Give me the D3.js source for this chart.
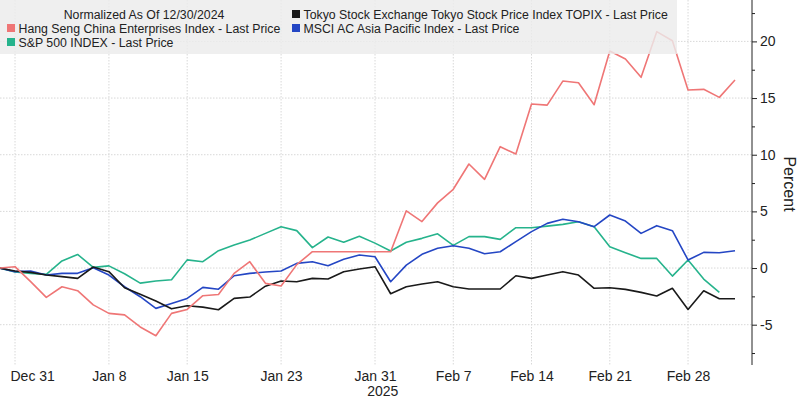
<!DOCTYPE html>
<html><head><meta charset="utf-8">
<script src="https://cdn.jsdelivr.net/npm/d3@7"></script>
<style>
body{margin:0;background:#fff}
svg{display:block}
text{font-family:"Liberation Sans",Arial,sans-serif;fill:#222}
</style>
</head><body>
<svg id="c" width="800" height="402"></svg>
<script>
// ---------- data ----------
const dates = [
  "2024-12-30","2024-12-31","2025-01-01","2025-01-02","2025-01-03",
  "2025-01-06","2025-01-07","2025-01-08","2025-01-09","2025-01-10",
  "2025-01-13","2025-01-14","2025-01-15","2025-01-16","2025-01-17",
  "2025-01-20","2025-01-21","2025-01-22","2025-01-23","2025-01-24",
  "2025-01-27","2025-01-28","2025-01-29","2025-01-30","2025-01-31",
  "2025-02-03","2025-02-04","2025-02-05","2025-02-06","2025-02-07",
  "2025-02-10","2025-02-11","2025-02-12","2025-02-13","2025-02-14",
  "2025-02-17","2025-02-18","2025-02-19","2025-02-20","2025-02-21",
  "2025-02-24","2025-02-25","2025-02-26","2025-02-27","2025-02-28",
  "2025-03-03","2025-03-04","2025-03-05"
];
const hscei = [0,0.12,-1.2,-2.59,-1.65,-2.0,-3.25,-4.0,-4.13,-5.2,
  -5.97,-4.0,-3.65,-2.44,-2.33,-0.47,0.56,-1.35,-1.59,0.3,
  1.44,1.44,1.44,1.44,1.44,1.44,5.05,4.1,5.75,6.95,
  9.18,7.83,10.71,10.06,14.47,14.38,16.5,16.35,14.41,19.15,
  18.45,16.83,20.86,20.06,15.71,15.77,15.06,16.59];
const topix = [0,-0.26,-0.38,-0.62,-0.76,-0.91,0.09,-0.32,-1.74,-2.32,
  -2.91,-3.6,-3.33,-3.45,-3.68,-2.68,-2.56,-1.6,-1.15,-1.21,
  -0.91,-0.97,-0.32,-0.09,0.12,-2.27,-1.65,-1.41,-1.21,-1.65,
  -1.85,-1.85,-1.85,-0.68,-0.91,-0.62,-0.32,-0.62,-1.79,-1.74,
  -1.88,-2.15,-2.47,-1.79,-3.65,-2.0,-2.71,-2.71];
const msciAp = [0,-0.32,-0.26,-0.62,-0.47,-0.47,0.03,-0.62,-1.65,-2.53,
  -3.56,-3.12,-2.68,-1.71,-1.87,-0.68,-0.47,-0.35,-0.26,0.41,
  0.56,0.21,0.77,1.15,1.0,-1.21,0.26,1.21,1.74,1.97,
  1.74,1.26,1.44,2.33,3.21,3.94,4.3,4.09,3.65,4.68,
  4.15,3.06,3.74,3.3,0.71,1.38,1.35,1.53];
const spx = [0,-0.35,-0.47,-0.56,0.63,1.2,0.06,0.19,-0.5,-1.33,
  -1.14,-1.04,0.72,0.56,1.53,2.03,2.47,3.06,3.65,3.3,
  1.8,2.74,2.27,2.8,2.2,1.5,2.27,2.62,3.02,2.0,
  2.77,2.77,2.53,3.56,3.56,3.7,3.85,4.09,3.65,1.88,
  1.35,0.85,0.85,-0.71,0.71,-0.97,-2.15,null];

const seriesNames = [
  "Hang Seng China Enterprises Index - Last Price",
  "Tokyo Stock Exchange Tokyo Stock Price Index TOPIX - Last Price",
  "MSCI AC Asia Pacific Index - Last Price",
  "S&P 500 INDEX - Last Price"
];
const seriesColors = ["#ef7676","#1a1a1a","#2446c4","#26b38c"];
const legendTitle = "Normalized As Of 12/30/2024";

const tickDates = ["2024-12-31","2025-01-08","2025-01-15","2025-01-23","2025-01-31",
  "2025-02-07","2025-02-14","2025-02-21","2025-02-28"];
const tickLabels = ["Dec 31","Jan 8","Jan 15","Jan 23","Jan 31","Feb 7","Feb 14","Feb 21","Feb 28"];
const yearLabel = "2025";
const yTicks = [-5,0,5,10,15,20];
const yMinorTicks = [-7.5,-2.5,2.5,7.5,12.5,17.5,22.5];
const yTitle = "Percent";

// ---------- layout ----------
const svg = d3.select("#c");
const axisX = 752, plotBottom = 365;
const x = d3.scalePoint().domain(dates).range([-0.65, 735]);
const y = d3.scaleLinear().domain([-5, 20]).range([324.7, 41.4]);

// grid
const grid = svg.append("g");
grid.selectAll("line.h").data(yTicks).join("line")
  .attr("x1", 0).attr("x2", axisX)
  .attr("y1", d => y(d)).attr("y2", d => y(d))
  .attr("stroke", "#d8d8d8").attr("stroke-dasharray", "1.5,1.5");
grid.selectAll("line.v").data(tickDates).join("line")
  .attr("x1", d => x(d)).attr("x2", d => x(d))
  .attr("y1", 0).attr("y2", plotBottom)
  .attr("stroke", "#d8d8d8").attr("stroke-dasharray", "1.5,1.5");

// lines
const seriesData = [spx, msciAp, topix, hscei];
const seriesCol = [seriesColors[3], seriesColors[2], seriesColors[1], seriesColors[0]];
const line = d3.line()
  .defined(d => d[1] !== null)
  .x(d => x(d[0])).y(d => y(d[1]));
seriesData.forEach((vals, k) => {
  svg.append("path")
    .datum(dates.map((dt, i) => [dt, vals[i]]))
    .attr("d", line)
    .attr("fill", "none")
    .attr("stroke", seriesCol[k])
    .attr("stroke-width", 1.6)
    .attr("stroke-linejoin", "round");
});

// y axis (right)
const yAxisG = svg.append("g").attr("transform", `translate(${axisX},0)`);
yAxisG.call(d3.axisRight(y).tickValues(yTicks).tickSize(5).tickPadding(3).tickFormat(d => String(d)));
yAxisG.select(".domain").remove();
yAxisG.selectAll("text").style("font-size", "14px").attr("fill", "#222");
yAxisG.selectAll("line").attr("stroke", "#222");
const yMinorG = svg.append("g").attr("transform", `translate(${axisX},0)`);
yMinorG.call(d3.axisRight(y).tickValues(yMinorTicks).tickSize(3).tickFormat(""));
yMinorG.select(".domain").remove();
yMinorG.selectAll("line").attr("stroke", "#222");
svg.append("line").attr("x1", axisX).attr("x2", axisX).attr("y1", 0).attr("y2", plotBottom)
  .attr("stroke", "#222").attr("stroke-width", 1);

svg.append("text")
  .attr("transform", "translate(784,184) rotate(90)")
  .attr("text-anchor", "middle")
  .style("font-size", "16px")
  .text(yTitle);

// x axis
const xAxisG = svg.append("g").attr("transform", `translate(0,362)`);
xAxisG.call(d3.axisBottom(x).tickValues(tickDates).tickSize(0).tickPadding(9)
  .tickFormat((d, i) => tickLabels[i]));
xAxisG.select(".domain").remove();
xAxisG.selectAll("text").style("font-size", "14px").attr("fill", "#222");
xAxisG.selectAll(".tick").each(function(d) {
  const t = d3.select(this).select("text");
  const w = t.node().getComputedTextLength();
  const left = x(d) - w / 2;
  if (left < 10) t.attr("x", 10 - left);
});
svg.append("text")
  .attr("x", (x("2025-01-31") + x("2025-02-03")) / 2)
  .attr("y", 396)
  .attr("text-anchor", "middle")
  .style("font-size", "14px")
  .text(yearLabel);

// legend
const lg = svg.append("g");
lg.append("rect").attr("x", 0).attr("y", 0).attr("width", 677).attr("height", 54)
  .attr("fill", "#ececec").attr("opacity", 0.82);
lg.append("text").attr("x", 144).attr("y", 19).attr("text-anchor", "middle")
  .style("font-size", "12.3px").text(legendTitle);
const legendPos = [[7, 33], [292, 19], [292, 33], [7, 47]];
seriesNames.forEach((name, k) => {
  const [lx, ly] = legendPos[k];
  lg.append("rect").attr("x", lx).attr("y", ly - 9).attr("width", 8).attr("height", 8)
    .attr("fill", seriesColors[k]);
  lg.append("text").attr("x", lx + 11.5).attr("y", ly)
    .style("font-size", "12.3px").text(name);
});
</script>
</body></html>
